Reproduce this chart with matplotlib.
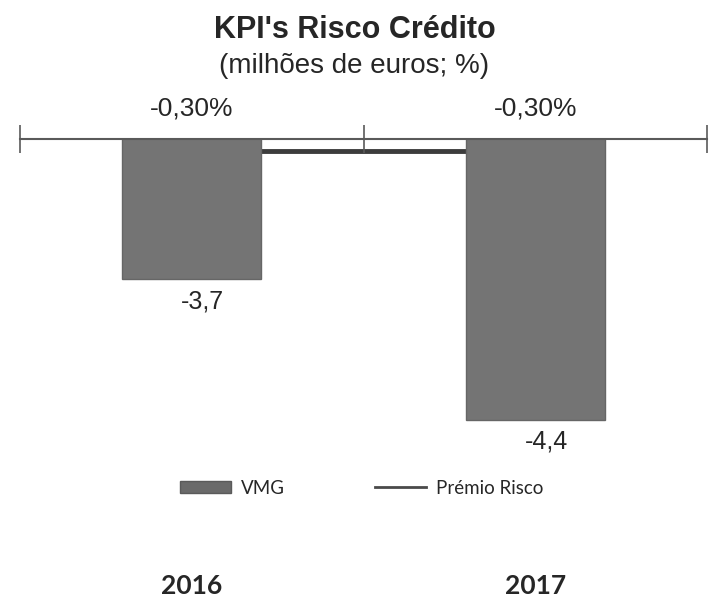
import numpy as np
import matplotlib
matplotlib.use("Agg")
import matplotlib.pyplot as plt
from matplotlib.lines import Line2D
from matplotlib.patches import Patch

# data
anos = ["2016", "2017"]
vmg = [-3.7, -4.4]                 # milhoes de euros
premio_risco = [-0.30, -0.30]      # %
vmg_labels = ["-3,7", "-4,4"]
premio_labels = ["-0,30%", "-0,30%"]

TXT = "#262626"
BAR = "#747474"

plt.rcParams["font.family"] = ["Liberation Sans", "DejaVu Sans"]

fig = plt.figure(figsize=(7.09, 5.98), dpi=100)
fig.patch.set_facecolor("white")

# axes box: top edge = category axis line
ax = fig.add_axes([20 / 709, 1 - 560 / 598, 687 / 709, 421 / 598])
ax2 = ax.twinx()
ax.set_zorder(ax2.get_zorder() + 1)
ax.patch.set_visible(False)

x = np.arange(len(anos))

# Premio Risco line (secondary axis, behind the bars)
ax2.plot(x, premio_risco, color="#3c3c3c", lw=3.5, solid_capstyle="butt")
ax2.set_ylim(-0.5, -0.2943)
ax2.set_axis_off()
for i, (v, lab) in enumerate(zip(premio_risco, premio_labels)):
    ax2.annotate(lab, (x[i], v), xytext=(0, 30), textcoords="offset points",
                 ha="center", va="center", fontsize=19, color=TXT)

# VMG bars hanging from the top axis line
bars = ax.bar(x, vmg, width=0.405, color=BAR, edgecolor="#666666", lw=1,
              label="VMG")
ax.set_xlim(-0.5, 1.5)
ax.set_ylim(-5.1, -3.0)
for i, (v, lab) in enumerate(zip(vmg, vmg_labels)):
    ax.annotate(lab, (x[i], v), xytext=(8, -16), textcoords="offset points",
                ha="center", va="center", fontsize=18, color=TXT)

for s in ["left", "right", "bottom"]:
    ax.spines[s].set_visible(False)
ax.spines["top"].set_color("#5a5a5a")
ax.spines["top"].set_linewidth(1.5)
ax.set_yticks([])

# category labels at the bottom, boundary ticks on the top line
ax.set_xticks(x)
ax.set_xticklabels(anos, fontsize=19, fontweight="bold", color=TXT,
                   family=["Lato", "DejaVu Sans"])
ax.tick_params(axis="x", which="major", length=0, pad=10)
ax.set_xticks([-0.5, 0.5, 1.5], minor=True)
ax.tick_params(axis="x", which="minor", bottom=False, top=True,
               direction="inout", length=20, width=1.2, color="#5a5a5a")

# title
fig.text(0.5, 1 - 30 / 598, "KPI's Risco Crédito", ha="center", va="center",
         fontsize=22, fontweight="bold", color=TXT)
fig.text(0.5, 1 - 66 / 598, "(milhões de euros; %)", ha="center", va="center",
         fontsize=20, color=TXT)

# legend
handles = [Patch(facecolor="#6a6a6a", edgecolor="#5a5a5a"),
           Line2D([0], [0], color="#4a4a4a", lw=2)]
fig.legend(handles, ["VMG", "Prémio Risco"], loc="center",
           bbox_to_anchor=(362 / 709, 1 - 488 / 598), ncol=2, frameon=False,
           prop={"family": ["Lato", "DejaVu Sans"], "size": 13.5},
           handlelength=2.7, handleheight=0.6, handletextpad=0.55,
           columnspacing=4.8, borderpad=0, labelcolor=TXT)

fig.savefig("out.png", dpi=100, facecolor="white")
